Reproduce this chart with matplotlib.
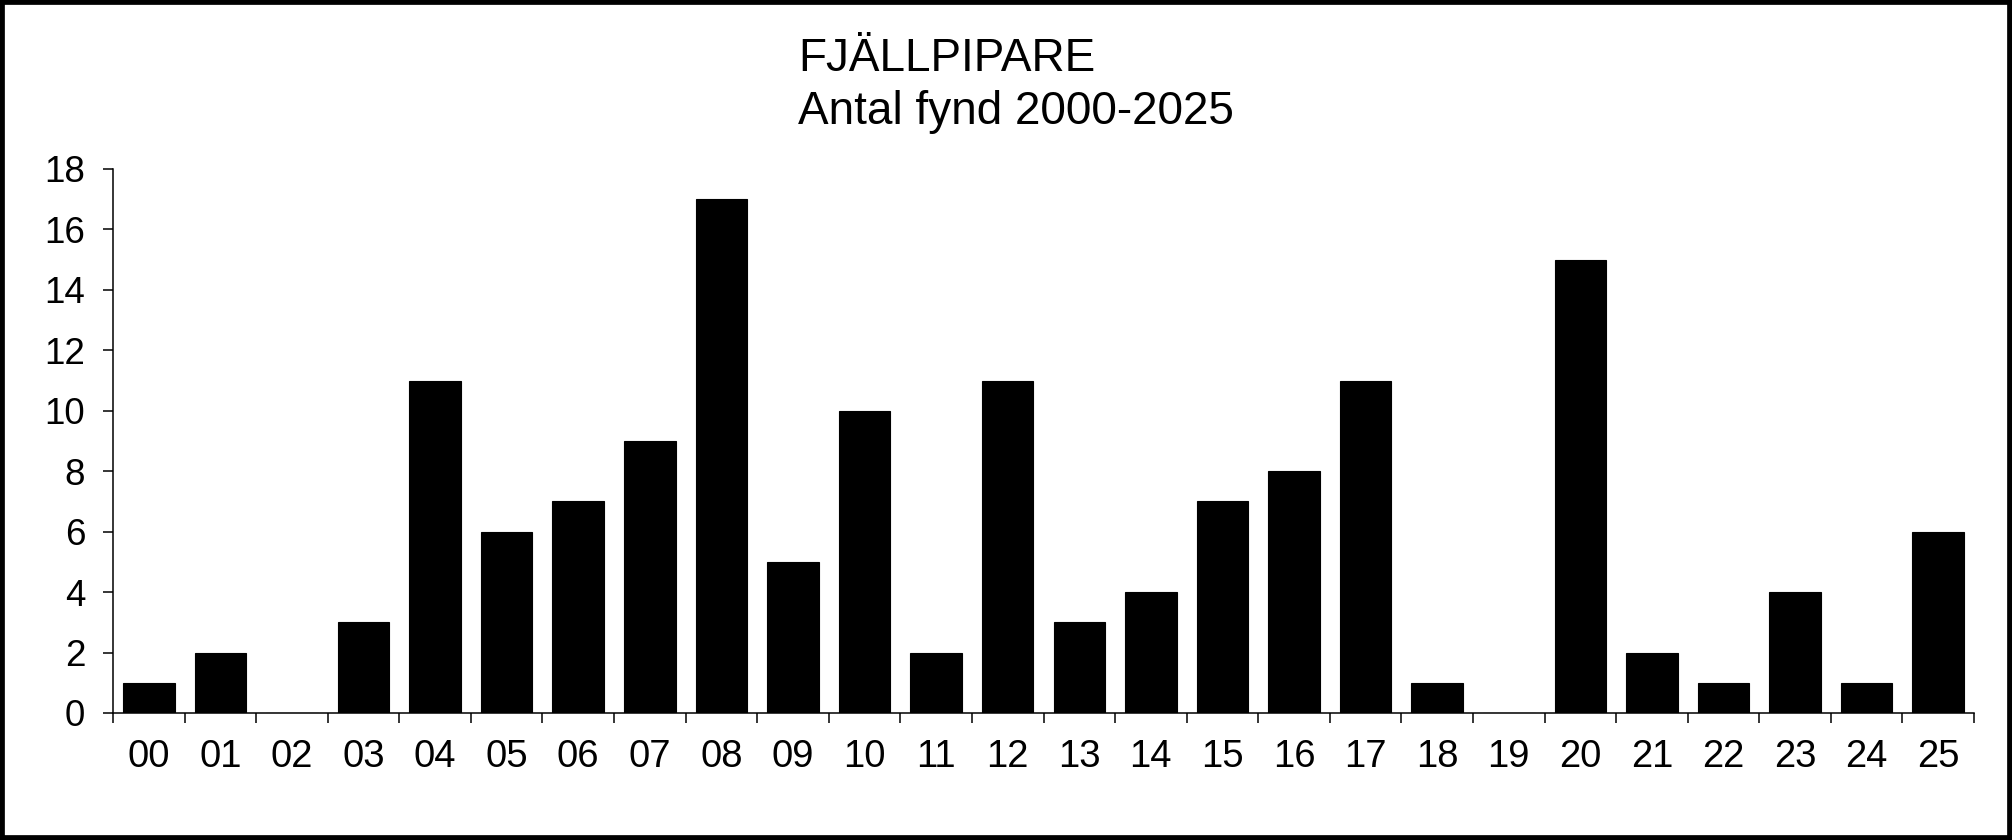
import matplotlib
matplotlib.use("Agg")
import matplotlib.pyplot as plt
from matplotlib.patches import Rectangle
import numpy as np

plt.rcParams['font.family'] = ['Liberation Sans', 'DejaVu Sans']

years = ["00", "01", "02", "03", "04", "05", "06", "07", "08", "09", "10", "11", "12",
         "13", "14", "15", "16", "17", "18", "19", "20", "21", "22", "23", "24", "25"]
counts = [1, 2, 0, 3, 11, 6, 7, 9, 17, 5, 10, 2, 11, 3, 4, 7, 8, 11, 1, 0, 15, 2, 1, 4, 1, 6]
yticks = [0, 2, 4, 6, 8, 10, 12, 14, 16, 18]
title_lines = ["FJÄLLPIPARE", "Antal fynd 2000-2025"]

W, H = 2012, 840
fig = plt.figure(figsize=(W / 100, H / 100), dpi=100)
ax = fig.add_axes([113 / W, 1 - 713 / H, (1974 - 113) / W, (713 - 169) / H])

x = np.arange(len(years))
ax.bar(x, counts, width=0.72, color='black', edgecolor='black', linewidth=0.8)

ax.set_xlim(-0.5, len(years) - 0.5)
ax.set_ylim(0, 18)

for s in ['top', 'right']:
    ax.spines[s].set_visible(False)
for s in ['left', 'bottom']:
    ax.spines[s].set_linewidth(1.1)

ax.set_yticks(yticks)
ax.set_yticklabels([str(v) for v in yticks], fontsize=26.5)
ax.tick_params(axis='y', direction='out', length=7, width=1.1, pad=13)

ax.set_xticks(np.arange(len(years) + 1) - 0.5)
ax.set_xticklabels([])
ax.tick_params(axis='x', which='major', direction='out', length=7, width=1.1)
ax.set_xticks(x, minor=True)
ax.set_xticklabels(years, minor=True, fontsize=27.5)
ax.tick_params(axis='x', which='minor', length=0, pad=19)

fig.text(798 / W, 1 - 71 / H, title_lines[0], fontsize=33, ha='left', va='baseline')
fig.text(798 / W, 1 - 124 / H, title_lines[1], fontsize=33, ha='left', va='baseline')

fig.patches.append(Rectangle((0, 0), 1, 1, transform=fig.transFigure, fill=False,
                             edgecolor='black', linewidth=7, zorder=10))

fig.savefig("out.png", dpi=100)
